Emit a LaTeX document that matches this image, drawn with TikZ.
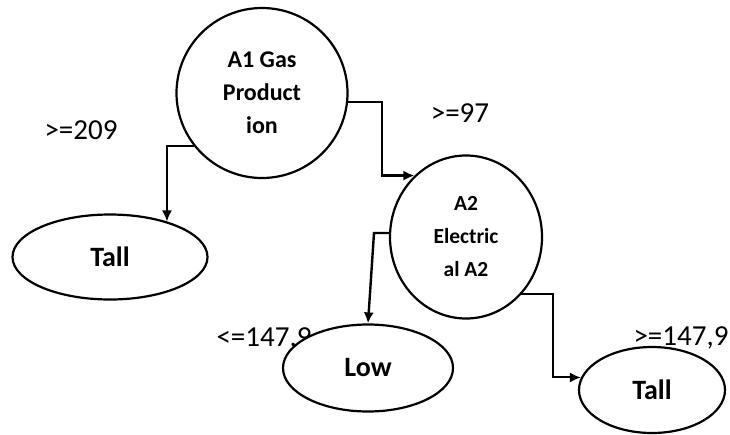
\documentclass[tikz,border=0pt]{standalone}
\usepackage{fontspec}
\setmainfont{Carlito}
\usetikzlibrary{arrows.meta, shapes.geometric}

\begin{document}
\begin{tikzpicture}[x=1pt, y=-1pt, >={Latex[length=11pt,width=10pt]}, line width=2.2pt,
  dec/.style={draw, ellipse, fill=white, inner sep=0pt, align=center, font=\fontsize{21.5}{33}\selectfont\bfseries},
  leaf/.style={draw, ellipse, fill=white, inner sep=0pt, font=\fontsize{28}{30}\selectfont\bfseries},
  lbl/.style={font=\fontsize{29}{32}\selectfont}]
\useasboundingbox (0,0) rectangle (730,434);
% branch labels
\node[lbl] (l209) at (81,130) {>=209};
\node[lbl] (l97) at (460,113) {>=97};
\node[lbl] (llow) at (264,339) {<=147,9};
\node[lbl] (lhigh) at (681,338) {>=147,9};
% tree
\node[dec, minimum width=171pt, minimum height=170pt, font=\fontsize{24}{33}\selectfont\bfseries] (gas) at (262,93) {A1 Gas\\Product\\ion};
\node[dec, minimum width=152pt, minimum height=163pt] (elec) at (466,237) {A2\\Electric\\al A2};
\node[leaf, minimum width=195pt, minimum height=85pt] (tallL) at (110,257) {Tall};
\node[leaf, minimum width=170pt, minimum height=87pt] (low) at (368,368) {Low};
\node[leaf, minimum width=146pt, minimum height=86pt] (tallR) at (652,390) {Tall};
\draw[->, line width=1.6pt] (gas.218) -| (tallL.32);
\draw[->, line width=2.4pt] (gas.354) -- ++(34,0) |- (elec.130);
\draw[->, line width=2.4pt] (elec.177) -- ++(-15,0) -- (low.north);
\draw[->, line width=2pt] (elec.314) -- ++(32,0) |- (tallR.170);
\end{tikzpicture}
\end{document}
